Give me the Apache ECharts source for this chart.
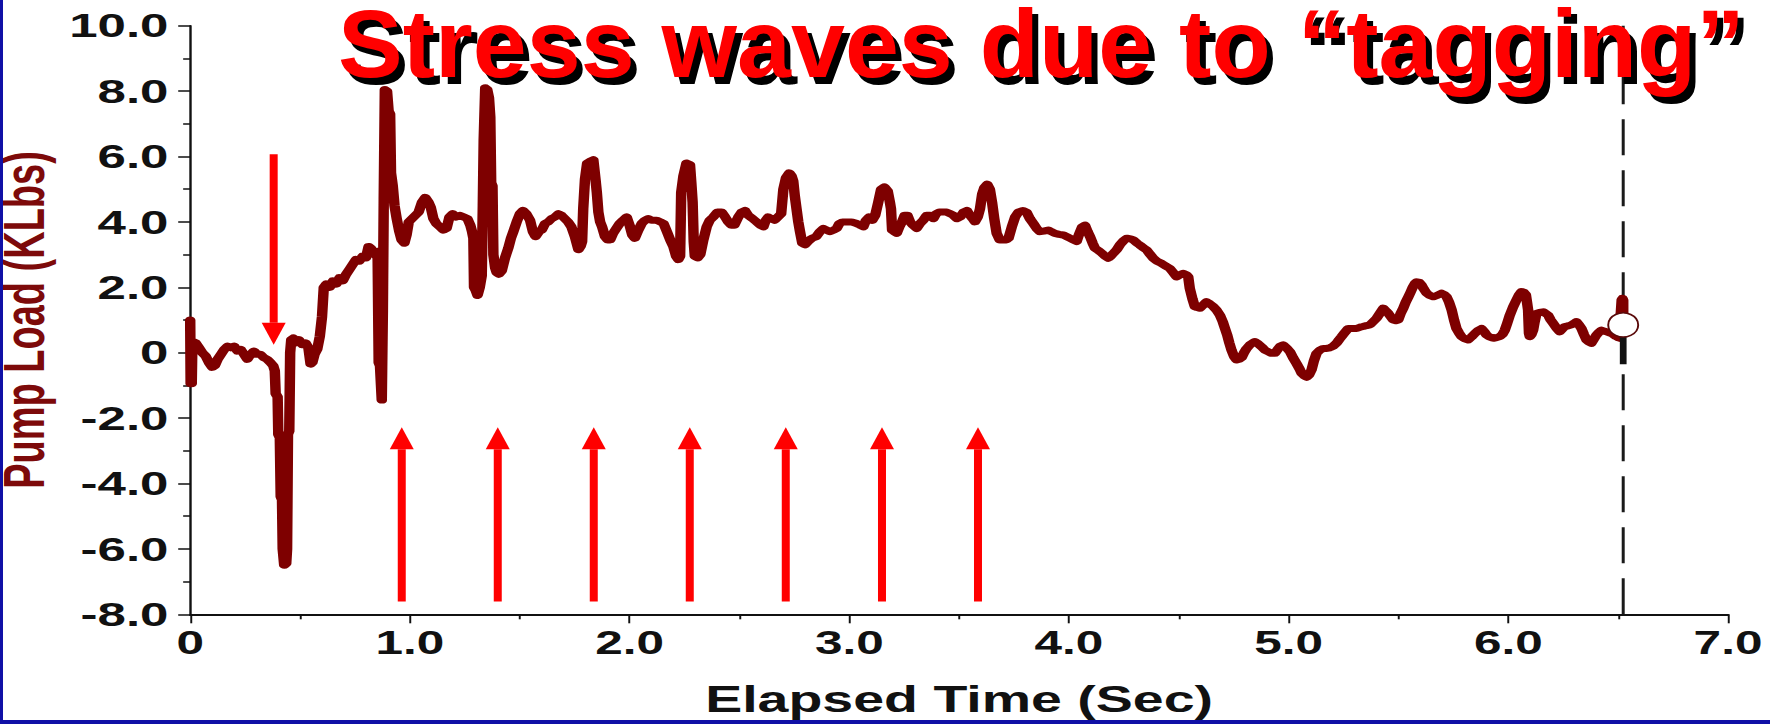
<!DOCTYPE html>
<html>
<head>
<meta charset="utf-8">
<title>Pump load vs elapsed time</title>
<script src="https://cdn.jsdelivr.net/npm/echarts@6/dist/echarts.min.js"></script>
<style>
  html, body { margin: 0; padding: 0; background: #ffffff; }
  body { width: 1770px; height: 724px; position: relative; overflow: hidden; }
  #plot { position: absolute; left: 0; top: 0; width: 1180px; height: 724px; transform: scaleX(1.5); transform-origin: 0 0; }
  #headline { position: absolute; left: 0; top: 0; width: 1770px; height: 724px; }
  .edge { position: absolute; background: #1010a6; }
</style>
</head>
<body>
<div id="plot"></div>
<div id="headline"></div>
<div class="edge" style="left:0;top:0;width:3px;height:724px"></div>
<div class="edge" style="left:0;top:720px;width:1770px;height:4px"></div>
<script>
// Dynamometer trace: elapsed time (s) and pump load (KLbs)
const timeSec = [
  0.000, 0.002, 0.007, 0.010, 0.025, 0.040, 0.055, 0.070, 0.085, 0.100,
  0.112, 0.125, 0.140, 0.155, 0.170, 0.185, 0.200, 0.215, 0.230, 0.245,
  0.260, 0.275, 0.290, 0.305, 0.320, 0.335, 0.350, 0.365, 0.378, 0.385,
  0.389, 0.398, 0.401, 0.408, 0.412, 0.418, 0.421, 0.428, 0.437, 0.441,
  0.445, 0.451, 0.455, 0.460, 0.470, 0.480, 0.495, 0.510, 0.525, 0.538,
  0.548, 0.556, 0.566, 0.578, 0.590, 0.600, 0.608, 0.620, 0.635, 0.650,
  0.665, 0.680, 0.695, 0.710, 0.725, 0.740, 0.755, 0.770, 0.785, 0.800,
  0.812, 0.822, 0.835, 0.848, 0.853, 0.858, 0.864, 0.872, 0.877, 0.881,
  0.886, 0.896, 0.903, 0.910, 0.914, 0.922, 0.930, 0.940, 0.952, 0.962,
  0.975, 0.985, 0.995, 1.010, 1.025, 1.040, 1.055, 1.070, 1.085, 1.095,
  1.107, 1.120, 1.137, 1.152, 1.167, 1.180, 1.195, 1.210, 1.228, 1.245,
  1.262, 1.275, 1.283, 1.289, 1.292, 1.300, 1.308, 1.318, 1.327, 1.332,
  1.336, 1.343, 1.352, 1.360, 1.366, 1.370, 1.376, 1.380, 1.388, 1.395,
  1.405, 1.418, 1.433, 1.448, 1.460, 1.471, 1.486, 1.501, 1.515, 1.530,
  1.547, 1.560, 1.572, 1.587, 1.600, 1.615, 1.630, 1.645, 1.660, 1.676,
  1.690, 1.705, 1.720, 1.735, 1.751, 1.767, 1.777, 1.784, 1.789, 1.797,
  1.807, 1.820, 1.835, 1.845, 1.851, 1.858, 1.866, 1.875, 1.888, 1.900,
  1.912, 1.925, 1.940, 1.955, 1.970, 1.987, 2.000, 2.012, 2.024, 2.040,
  2.055, 2.070, 2.085, 2.100, 2.123, 2.140, 2.155, 2.170, 2.185, 2.199,
  2.212, 2.222, 2.230, 2.235, 2.245, 2.259, 2.275, 2.281, 2.287, 2.292,
  2.297, 2.310, 2.322, 2.336, 2.351, 2.365, 2.381, 2.400, 2.419, 2.435,
  2.449, 2.463, 2.477, 2.495, 2.510, 2.525, 2.540, 2.560, 2.578, 2.595,
  2.609, 2.620, 2.631, 2.645, 2.660, 2.675, 2.690, 2.700, 2.712, 2.727,
  2.738, 2.745, 2.752, 2.760, 2.768, 2.776, 2.786, 2.798, 2.812, 2.830,
  2.850, 2.866, 2.882, 2.897, 2.912, 2.928, 2.943, 2.955, 2.970, 2.990,
  3.010, 3.034, 3.050, 3.064, 3.076, 3.090, 3.105, 3.118, 3.132, 3.145,
  3.160, 3.175, 3.185, 3.190, 3.195, 3.205, 3.216, 3.228, 3.240, 3.252,
  3.265, 3.277, 3.290, 3.307, 3.322, 3.337, 3.352, 3.367, 3.383, 3.395,
  3.410, 3.425, 3.443, 3.460, 3.474, 3.490, 3.505, 3.520, 3.535, 3.549,
  3.562, 3.572, 3.585, 3.595, 3.605, 3.615, 3.628, 3.640, 3.650, 3.660,
  3.671, 3.685, 3.700, 3.715, 3.725, 3.740, 3.755, 3.770, 3.790, 3.807,
  3.822, 3.838, 3.853, 3.868, 3.885, 3.906, 3.920, 3.936, 3.955, 3.974,
  3.990, 4.005, 4.020, 4.035, 4.045, 4.060, 4.073, 4.085, 4.096, 4.108,
  4.118, 4.135, 4.149, 4.165, 4.179, 4.190, 4.202, 4.218, 4.232, 4.248,
  4.263, 4.280, 4.293, 4.310, 4.323, 4.340, 4.354, 4.370, 4.384, 4.400,
  4.422, 4.440, 4.459, 4.475, 4.490, 4.505, 4.520, 4.535, 4.543, 4.550,
  4.562, 4.573, 4.585, 4.596, 4.610, 4.626, 4.640, 4.657, 4.672, 4.687,
  4.700, 4.710, 4.720, 4.730, 4.740, 4.752, 4.763, 4.775, 4.786, 4.797,
  4.809, 4.825, 4.846, 4.860, 4.877, 4.892, 4.907, 4.922, 4.937, 4.950,
  4.962, 4.975, 4.990, 5.006, 5.020, 5.036, 5.050, 5.059, 5.070, 5.082,
  5.093, 5.104, 5.115, 5.127, 5.142, 5.158, 5.173, 5.188, 5.203, 5.218,
  5.230, 5.241, 5.256, 5.271, 5.290, 5.309, 5.325, 5.339, 5.355, 5.370,
  5.385, 5.400, 5.415, 5.431, 5.443, 5.454, 5.465, 5.476, 5.488, 5.499,
  5.510, 5.522, 5.533, 5.545, 5.555, 5.565, 5.575, 5.582, 5.595, 5.605,
  5.615, 5.628, 5.643, 5.658, 5.675, 5.696, 5.708, 5.719, 5.730, 5.742,
  5.753, 5.764, 5.776, 5.787, 5.800, 5.817, 5.832, 5.848, 5.863, 5.878,
  5.890, 5.901, 5.915, 5.931, 5.946, 5.961, 5.973, 5.984, 5.995, 6.007,
  6.022, 6.037, 6.050, 6.060, 6.070, 6.080, 6.086, 6.090, 6.094, 6.098,
  6.105, 6.113, 6.120, 6.128, 6.143, 6.159, 6.170, 6.181, 6.193, 6.204,
  6.220, 6.234, 6.245, 6.257, 6.272, 6.287, 6.300, 6.310, 6.322, 6.333,
  6.345, 6.356, 6.367, 6.378, 6.390, 6.401, 6.412, 6.424, 6.435, 6.447,
  6.459, 6.470, 6.481, 6.492, 6.500, 6.508, 6.512, 6.516, 6.520, 6.523,
  6.523
];
const pumpLoadKlbs = [
  1.00, -0.95, -0.95, 0.35, 0.30, 0.15, 0.00, -0.10, -0.30, -0.45,
  -0.40, -0.20, -0.05, 0.10, 0.20, 0.15, 0.20, 0.05, 0.10, -0.05,
  -0.20, -0.05, 0.05, -0.05, -0.05, -0.15, -0.20, -0.30, -0.40, -0.55,
  -1.25, -1.35, -2.50, -2.60, -4.40, -4.50, -6.00, -6.50, -6.45, -6.00,
  -2.50, -2.40, 0.00, 0.40, 0.45, 0.30, 0.40, 0.25, 0.30, 0.15,
  -0.35, -0.30, -0.05, 0.10, 0.50, 1.10, 2.00, 2.10, 2.00, 2.20,
  2.10, 2.30, 2.20, 2.40, 2.55, 2.70, 2.85, 2.80, 2.95, 2.90,
  3.25, 3.20, 3.05, 2.95, 3.10, -0.30, -0.40, -1.45, 1.30, 4.70,
  8.05, 8.00, 7.40, 7.30, 5.50, 5.10, 4.50, 4.10, 3.70, 3.45,
  3.35, 3.60, 4.00, 4.10, 4.20, 4.30, 4.60, 4.75, 4.60, 4.45,
  4.10, 3.95, 3.85, 3.75, 3.80, 4.15, 4.25, 4.15, 4.20, 4.15,
  4.10, 3.90, 3.70, 3.50, 2.00, 1.90, 1.75, 2.00, 2.35, 4.50,
  6.50, 8.10, 8.05, 7.80, 7.20, 5.20, 5.10, 3.00, 2.60, 2.45,
  2.40, 2.50, 2.90, 3.20, 3.50, 3.70, 4.00, 4.25, 4.35, 4.25,
  4.05, 3.70, 3.55, 3.70, 3.75, 3.95, 4.00, 4.10, 4.15, 4.25,
  4.20, 4.10, 4.00, 3.85, 3.55, 3.15, 3.25, 3.40, 4.40, 5.30,
  5.80, 5.85, 5.90, 5.30, 4.90, 4.30, 4.00, 3.85, 3.55, 3.45,
  3.45, 3.65, 3.80, 3.95, 4.05, 4.15, 3.90, 3.60, 3.50, 3.75,
  3.95, 4.05, 4.10, 4.05, 4.05, 4.00, 3.95, 3.70, 3.45, 3.25,
  2.95, 2.85, 2.95, 4.90, 5.40, 5.80, 5.75, 5.20, 4.60, 3.40,
  2.95, 2.90, 3.00, 3.45, 3.85, 4.05, 4.15, 4.30, 4.30, 4.15,
  4.00, 3.90, 3.90, 4.15, 4.30, 4.35, 4.20, 4.10, 4.00, 3.90,
  3.85, 4.05, 4.15, 4.10, 4.05, 4.15, 4.25, 5.00, 5.35, 5.50,
  5.40, 5.25, 4.80, 4.40, 4.00, 3.70, 3.35, 3.30, 3.40, 3.50,
  3.55, 3.70, 3.80, 3.75, 3.70, 3.75, 3.80, 3.95, 4.00, 4.00,
  4.00, 3.95, 3.90, 3.85, 4.05, 4.15, 4.05, 4.20, 4.60, 5.00,
  5.07, 4.95, 4.60, 4.40, 3.75, 3.70, 3.65, 3.85, 4.00, 4.20,
  4.20, 4.00, 3.90, 3.80, 3.95, 4.05, 4.20, 4.20, 4.10, 4.25,
  4.30, 4.30, 4.30, 4.25, 4.20, 4.10, 4.15, 4.30, 4.35, 4.20,
  4.10, 4.00, 4.15, 4.40, 4.85, 5.05, 5.15, 5.00, 4.60, 4.10,
  3.65, 3.45, 3.45, 3.45, 3.50, 3.85, 4.15, 4.30, 4.35, 4.30,
  4.10, 3.95, 3.80, 3.70, 3.72, 3.75, 3.70, 3.65, 3.62, 3.60,
  3.55, 3.50, 3.45, 3.40, 3.60, 3.85, 3.90, 3.70, 3.55, 3.35,
  3.20, 3.12, 3.05, 2.95, 2.89, 2.95, 3.04, 3.15, 3.30, 3.42,
  3.50, 3.48, 3.45, 3.35, 3.29, 3.20, 3.14, 3.00, 2.89, 2.80,
  2.73, 2.65, 2.58, 2.45, 2.32, 2.38, 2.43, 2.38, 2.32, 1.97,
  1.65, 1.41, 1.38, 1.36, 1.45, 1.56, 1.50, 1.41, 1.30, 1.15,
  0.95, 0.75, 0.55, 0.30, 0.08, -0.12, -0.22, -0.20, -0.15, 0.00,
  0.13, 0.25, 0.34, 0.28, 0.18, 0.08, 0.03, -0.02, -0.02, 0.10,
  0.20, 0.24, 0.15, 0.03, -0.15, -0.33, -0.50, -0.63, -0.70, -0.75,
  -0.68, -0.53, -0.25, -0.02, 0.08, 0.13, 0.13, 0.15, 0.20, 0.29,
  0.40, 0.49, 0.62, 0.74, 0.74, 0.74, 0.78, 0.80, 0.83, 0.85,
  0.95, 1.05, 1.20, 1.36, 1.28, 1.20, 1.10, 1.00, 0.98, 1.00,
  1.20, 1.36, 1.55, 1.71, 1.85, 2.00, 2.12, 2.17, 2.15, 2.07,
  1.95, 1.82, 1.75, 1.71, 1.75, 1.82, 1.78, 1.71, 1.55, 1.31,
  1.00, 0.74, 0.60, 0.49, 0.43, 0.39, 0.48, 0.59, 0.68, 0.74,
  0.65, 0.54, 0.48, 0.44, 0.46, 0.49, 0.56, 0.69, 0.90, 1.15,
  1.40, 1.61, 1.78, 1.87, 1.85, 1.77, 1.50, 1.31, 0.60, 0.49,
  0.55, 0.69, 0.95, 1.20, 1.23, 1.25, 1.20, 1.15, 1.00, 0.90,
  0.75, 0.64, 0.72, 0.80, 0.82, 0.85, 0.90, 0.95, 0.85, 0.74,
  0.55, 0.39, 0.33, 0.29, 0.42, 0.54, 0.62, 0.69, 0.66, 0.64,
  0.61, 0.59, 0.54, 0.49, 0.46, 0.44, 1.20, 1.61, 1.66, 1.60,
  0.85
];

// Red arrows: time, tail load, tip load
const arrowTime = [0.380, 0.963, 1.400, 1.837, 2.274, 2.711, 3.149, 3.586];
const arrowTail = [6.07, -7.61, -7.61, -7.61, -7.61, -7.61, -7.61, -7.61];
const arrowTip  = [0.24, -2.28, -2.28, -2.28, -2.28, -2.28, -2.28, -2.28];

// Cursor at end of recording
const cursorTime = 6.523;
const cursorLoad = 0.85;
const cursorBarLoads = [0.70, -0.35];

// Axis ticks
const xTicks = { min: 0, max: 7, step: 1 };
const yTicks = { min: -8, max: 10, step: 2 };

const TITLE = 'Stress waves due to \u201Ctagging\u201D';
const FONT = '"Liberation Sans", Arial, Helvetica, sans-serif';
const STRETCH = 1.5;   // the plot layer is widened by CSS scaleX

const tickLabel = v => (v === 0 ? '0' : v.toFixed(1));

const loadData = timeSec.map((t, i) => [t, pumpLoadKlbs[i]]);
const arrowData = arrowTime.map((t, i) => [t, arrowTail[i], arrowTip[i]]);

const plot = echarts.init(document.getElementById('plot'), null, { renderer: 'svg' });
plot.setOption({
  backgroundColor: '#ffffff',
  animation: false,
  grid: { left: 126.8, right: 28, top: 25.7, bottom: 109.7, containLabel: false, outerBoundsMode: 'none' },
  xAxis: {
    type: 'value', min: xTicks.min, max: xTicks.max, interval: xTicks.step,
    axisLine: { show: true, onZero: false, lineStyle: { color: '#111', width: 1.8 } },
    axisTick: { show: true, length: 9, lineStyle: { color: '#111', width: 1.3 } },
    minorTick: { show: true, splitNumber: 2, length: 5, lineStyle: { color: '#111', width: 1.3 } },
    splitLine: { show: false },
    axisLabel: { formatter: tickLabel, fontFamily: FONT, fontWeight: 'bold', fontSize: 33, color: '#111', margin: 12 },
    name: 'Elapsed Time (Sec)', nameLocation: 'middle', nameGap: 66,
    nameTextStyle: { fontFamily: FONT, fontWeight: 'bold', fontSize: 37, color: '#111' }
  },
  yAxis: {
    type: 'value', min: yTicks.min, max: yTicks.max, interval: yTicks.step,
    axisLine: { show: true, onZero: false, lineStyle: { color: '#111', width: 1.6 } },
    axisTick: { show: true, length: 8, lineStyle: { color: '#111', width: 1.5 } },
    minorTick: { show: true, splitNumber: 2, length: 4.7, lineStyle: { color: '#111', width: 1.5 } },
    splitLine: { show: false },
    axisLabel: { formatter: tickLabel, fontFamily: FONT, fontWeight: 'bold', fontSize: 34, color: '#111', margin: 14.5 },
    name: 'Pump Load (KLbs)', nameLocation: 'middle', nameRotate: 90, nameGap: 83,
    nameTextStyle: { fontFamily: FONT, fontWeight: 'bold', fontSize: 38, color: '#7d0a0a' }
  },
  series: [
    {
      name: 'Cursor', type: 'line', silent: true, symbol: 'none', z: 2,
      data: [[cursorTime, yTicks.min], [cursorTime, yTicks.max]],
      lineStyle: { color: '#1a1a1a', width: 2, type: [36, 15] }
    },
    {
      name: 'Pump Load', type: 'line', silent: true, symbol: 'none', z: 3,
      data: loadData,
      lineStyle: { color: '#7e0000', width: 7, join: 'round', cap: 'round' }
    },
    {
      name: 'Cursor bar', type: 'line', silent: true, symbol: 'none', z: 4,
      data: cursorBarLoads.map(v => [cursorTime, v]),
      lineStyle: { color: '#111', width: 4.5 }
    },
    {
      name: 'Cursor point', type: 'scatter', silent: true, z: 5,
      data: [[cursorTime, cursorLoad]],
      symbol: 'circle', symbolSize: [20, 24],
      itemStyle: { color: '#ffffff', opacity: 1, borderColor: '#5a0a0a', borderWidth: 1.4 }
    },
    {
      name: 'Arrows', type: 'custom', silent: true, z: 6,
      data: arrowData,
      encode: { x: 0, y: [1, 2] },
      renderItem: (params, api) => {
        const t = api.value(0);
        const a = api.coord([t, api.value(1)]);
        const b = api.coord([t, api.value(2)]);
        const dir = b[1] > a[1] ? 1 : -1;
        const headLen = 22, headHalf = 12 / STRETCH, shaftHalf = 4 / STRETCH;
        const neck = b[1] - dir * headLen;
        return {
          type: 'group',
          children: [
            { type: 'rect', shape: { x: a[0] - shaftHalf, y: Math.min(a[1], neck), width: 2 * shaftHalf, height: Math.abs(neck - a[1]) },
              style: { fill: '#ff0000' } },
            { type: 'polygon', shape: { points: [[b[0], b[1]], [b[0] - headHalf, neck], [b[0] + headHalf, neck]] },
              style: { fill: '#ff0000' } }
          ]
        };
      }
    }
  ]
});

const headline = echarts.init(document.getElementById('headline'), null, { renderer: 'canvas' });
headline.setOption({
  backgroundColor: 'transparent',
  animation: false,
  graphic: [{
    type: 'text', silent: true, x: 338, y: 50, z: 10,
    style: {
      text: TITLE, font: 'bold 97px ' + FONT, fill: '#ff0000',
      verticalAlign: 'middle', align: 'left',
      textShadowColor: '#000000', textShadowBlur: 0.1, textShadowOffsetX: 6, textShadowOffsetY: 7
    }
  }]
});
</script>
</body>
</html>
